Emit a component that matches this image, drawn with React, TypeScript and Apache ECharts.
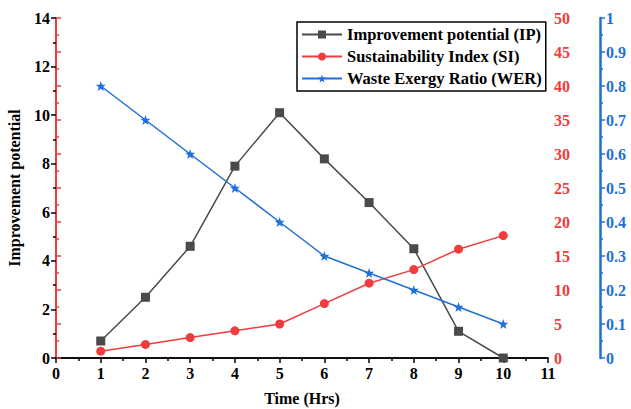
import React, { useEffect, useRef } from "react";
import * as echarts from "echarts";

const hours = [1, 2, 3, 4, 5, 6, 7, 8, 9, 10];
const ipValues = [0.7, 2.5, 4.6, 7.9, 10.1, 8.2, 6.4, 4.5, 1.1, 0.0];
const siValues = [1, 2, 3, 4, 5, 8, 11, 13, 16, 18];
const werValues = [0.8, 0.7, 0.6, 0.5, 0.4, 0.3, 0.25, 0.2, 0.15, 0.1];

const FONT = "Liberation Serif";
const GRAY = "#4a4a4a";
const RED = "#f03c3c";
const BLUE = "#1f6fd8";

export default function App() {
  const ref = useRef<HTMLDivElement>(null);
  useEffect(() => {
    const chart = echarts.init(ref.current!, undefined, { renderer: "svg" });
    const lbl = { fontFamily: FONT, fontWeight: "bold" as const, fontSize: 16 };
    chart.setOption({
      animation: false,
      textStyle: { fontFamily: FONT },
      grid: { left: 56, right: 83, top: 18, bottom: 51, outerBoundsMode: "none", containLabel: false },
      legend: {
        orient: "vertical",
        left: 297,
        top: 22,
        borderColor: "#000",
        borderWidth: 1.5,
        padding: [4, 4, 4, 4],
        itemGap: 5,
        itemWidth: 40,
        itemHeight: 10,
        textStyle: { ...lbl, color: "#000", fontSize: 16.5 },
        data: ["Improvement potential (IP)", "Sustainability Index (SI)", "Waste Exergy Ratio (WER)"],
      },
      xAxis: [
        {
          type: "value",
          min: 0,
          max: 11,
          interval: 1,
          name: "Time (Hrs)",
          nameLocation: "middle",
          nameGap: 32,
          nameTextStyle: { ...lbl, color: "#000" },
          axisLine: { lineStyle: { color: "#000", width: 1.5 } },
          axisTick: { length: 5, lineStyle: { color: "#000", width: 1.5 } },
          minorTick: { show: true, splitNumber: 2, length: 3, lineStyle: { color: "#000", width: 1.5 } },
          axisLabel: { ...lbl, color: "#000", margin: 7 },
          splitLine: { show: false },
        },
        {
          type: "value",
          position: "top",
          min: 0,
          max: 11,
          axisLine: { show: true, lineStyle: { color: "#000", width: 1.5 } },
          axisTick: { show: false },
          axisLabel: { show: false },
          splitLine: { show: false },
        },
      ],
      yAxis: [
        {
          type: "value",
          min: 0,
          max: 14,
          interval: 2,
          name: "Improvement potential",
          nameLocation: "middle",
          nameGap: 34,
          nameTextStyle: { ...lbl, color: "#000" },
          axisLine: { show: true, lineStyle: { color: GRAY, width: 1.5 } },
          axisTick: { show: true, length: 5, lineStyle: { color: "#000", width: 1.5 } },
          minorTick: { show: true, splitNumber: 2, length: 3, lineStyle: { color: "#000", width: 1.5 } },
          axisLabel: { ...lbl, color: "#000", margin: 6 },
          splitLine: { show: false },
        },
        {
          type: "value",
          position: "right",
          min: 0,
          max: 50,
          interval: 5,
          axisLine: { show: true, lineStyle: { color: RED, width: 2 } },
          axisTick: { show: true, length: 5, lineStyle: { color: RED, width: 1.5 } },
          minorTick: { show: true, splitNumber: 2, length: 3, lineStyle: { color: RED, width: 1.5 } },
          axisLabel: { ...lbl, color: RED, margin: 6 },
          splitLine: { show: false },
        },
        {
          type: "value",
          position: "right",
          offset: 52,
          min: 0,
          max: 1,
          interval: 0.1,
          axisLine: { show: true, lineStyle: { color: BLUE, width: 2.5 } },
          axisTick: { show: true, length: 5, lineStyle: { color: BLUE, width: 1.5 } },
          minorTick: { show: true, splitNumber: 2, length: 3, lineStyle: { color: BLUE, width: 1.5 } },
          axisLabel: { ...lbl, color: BLUE, margin: 6 },
          splitLine: { show: false },
        },
      ],
      series: [
        {
          name: "Improvement potential (IP)",
          type: "line",
          xAxisIndex: 0,
          yAxisIndex: 0,
          data: hours.map((h, i) => [h, ipValues[i]]),
          symbol: "rect",
          symbolSize: 9,
          color: GRAY,
          itemStyle: { color: GRAY },
          lineStyle: { color: GRAY, width: 1.5 },
        },
        {
          name: "Sustainability Index (SI)",
          type: "line",
          xAxisIndex: 0,
          yAxisIndex: 1,
          data: hours.map((h, i) => [h, siValues[i]]),
          symbol: "circle",
          symbolSize: 9,
          color: RED,
          itemStyle: { color: RED },
          lineStyle: { color: RED, width: 1.5 },
        },
        {
          name: "Waste Exergy Ratio (WER)",
          type: "line",
          xAxisIndex: 0,
          yAxisIndex: 2,
          data: hours.map((h, i) => [h, werValues[i]]),
          symbol: "path://M0,-10 L2.35,-3.24 L9.51,-3.09 L3.8,1.24 L5.88,8.09 L0,4 L-5.88,8.09 L-3.8,1.24 L-9.51,-3.09 L-2.35,-3.24 Z",
          symbolSize: 10,
          color: BLUE,
          itemStyle: { color: BLUE },
          lineStyle: { color: BLUE, width: 1.5 },
        },
      ],
    });
    return () => chart.dispose();
  }, []);
  return <div ref={ref} style={{ width: 631, height: 409, position: "absolute", left: 0, top: 0 }} />;
}
